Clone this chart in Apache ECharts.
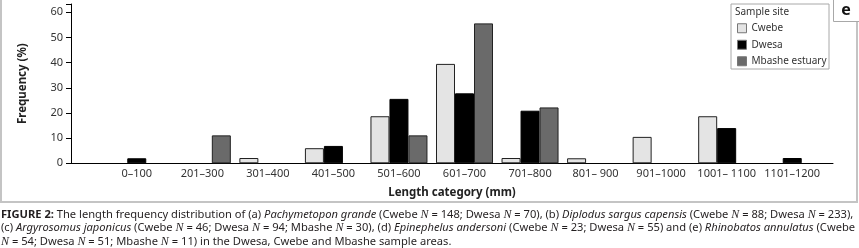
<!DOCTYPE html>
<html>
<head>
<meta charset="utf-8">
<script src="https://cdn.jsdelivr.net/npm/echarts@6/dist/echarts.min.js"></script>
<style>
  html, body { margin: 0; padding: 0; background: #fff; }
  #chart { width: 859px; height: 248px; }
</style>
</head>
<body>
<div id="chart"></div>
<script>
// length classes (mm) - note 101-200 is not in the figure
var categories = ['0–100', '201–300', '301–400', '401–500', '501–600', '601–700',
                  '701–800', '801– 900', '901–1000', '1001– 1100', '1101–1200'];
// frequency (%) per sample site
var cwebe  = [0, 0, 2.1, 6.0, 18.7, 39.5, 2.1, 2.0, 10.5, 18.7, 0];
var dwesa  = [2.0, 0, 0, 6.9, 25.6, 27.8, 20.9, 0, 0, 14.0, 2.1];
var mbashe = [0, 11.1, 0, 0, 11.1, 55.6, 22.2, 0, 0, 0, 0];
var yTicks = [0, 10, 20, 30, 40, 50, 60];

var font = '"Noto Sans", sans-serif';
var myChart = echarts.init(document.getElementById('chart'));

function barSeries(name, data, color, border) {
    return {
        name: name,
        type: 'bar',
        // empty classes are left out so no flat bar sits on the axis
        data: data.map(function (v) { return v === 0 ? '-' : v; }),
        xAxisIndex: 0,
        yAxisIndex: 0,
        barWidth: 19,
        barGap: '0%',
        itemStyle: { color: color, borderColor: border, borderWidth: 1 },
        emphasis: { disabled: true }
    };
}

var option = {
    animation: false,
    grid: [
        { left: 104, right: 34, top: 4, bottom: 84.7 },
        { left: 71, right: 26, top: 4, bottom: 84.7 }
    ],
    xAxis: [{
        type: 'category',
        gridIndex: 0,
        data: categories,
        axisLine: { show: false },
        axisTick: { show: false },
        axisLabel: { interval: 0, margin: 5, fontFamily: font, fontSize: 11, color: '#333' }
    }, {
        type: 'value',
        gridIndex: 1,
        min: 0, max: 1,
        axisLine: { show: true, lineStyle: { color: '#000', width: 1 } },
        axisTick: { show: false },
        axisLabel: { show: false },
        splitLine: { show: false },
        name: 'Length category (mm)',
        nameLocation: 'middle',
        nameGap: 23,
        nameTextStyle: { fontFamily: font, fontSize: 11.5, fontWeight: 'bold', color: '#222' }
    }],
    yAxis: [{
        type: 'value',
        gridIndex: 0,
        min: 0, max: 63.3,
        show: false
    }, {
        type: 'value',
        gridIndex: 1,
        min: 0, max: 63.3, interval: 10,
        axisLine: { show: true, lineStyle: { color: '#000', width: 1 } },
        axisTick: { show: true, length: 5, lineStyle: { color: '#000' } },
        axisLabel: {
            margin: 8, fontFamily: font, fontSize: 11, color: '#333',
            formatter: function (v) { return yTicks.indexOf(v) >= 0 ? String(v) : ''; }
        },
        splitLine: { show: false },
        name: 'Frequency (%)',
        nameLocation: 'middle',
        nameRotate: 90,
        nameGap: 42,
        nameTextStyle: { fontFamily: font, fontSize: 11.5, fontWeight: 'bold', color: '#222' }
    }],
    legend: {
        orient: 'vertical',
        left: 737, top: 21.5,
        padding: 0,
        icon: 'rect',
        itemWidth: 9, itemHeight: 9, itemGap: 3,
        selectedMode: false,
        itemStyle: { borderColor: '#777', borderWidth: 1 },
        textStyle: { fontFamily: font, fontSize: 10, color: '#333', lineHeight: 13.5 },
        data: ['Cwebe', 'Dwesa', 'Mbashe estuary']
    },
    series: [
        barSeries('Cwebe', cwebe, '#e4e4e4', '#222'),
        barSeries('Dwesa', dwesa, '#000000', '#000'),
        barSeries('Mbashe estuary', mbashe, '#6a6a6a', '#222')
    ],
    graphic: [
        // outer frame of the figure panel
        { type: 'rect', shape: { x: 1, y: -5, width: 856, height: 207 },
          style: { fill: 'none', stroke: '#c4c4c4', lineWidth: 2 }, silent: true },
        // legend box
        { type: 'rect', shape: { x: 731, y: 4, width: 98, height: 65 },
          style: { fill: 'none', stroke: '#a8a8a8', lineWidth: 1 }, silent: true },
        { type: 'text', x: 735, y: 7,
          style: { text: 'Sample site', font: '10px "Noto Sans"', fill: '#333' }, silent: true },
        // panel letter box
        { type: 'rect', shape: { x: 833.5, y: -2, width: 26, height: 23.5 },
          style: { fill: '#fff', stroke: '#a8a8a8', lineWidth: 1 }, silent: true },
        { type: 'text', x: 846, y: 10,
          style: { text: 'e', font: 'bold 16px "Noto Sans"', fill: '#111', align: 'center', verticalAlign: 'middle' }, silent: true },
        // caption
        { type: 'text', x: 1, y: 208.5, silent: true,
          style: {
            text: '{b|FIGURE 2:} The length frequency distribution of (a) {i|Pachymetopon grande} (Cwebe {n|N} = 148; Dwesa {n|N} = 70), (b) {i|Diplodus sargus capensis} (Cwebe {n|N} = 88; Dwesa {n|N} = 233),',
            font: '11.15px "Noto Sans"', fill: '#231f20',
            rich: { b: { fontWeight: 'bold', fontFamily: 'Noto Sans', fontSize: 11.15 },
                    i: { fontStyle: 'italic', fontFamily: 'Noto Sans', fontSize: 11.15 },
                    n: { fontStyle: 'italic', fontFamily: 'Liberation Serif', fontSize: 12 } }
          } },
        { type: 'text', x: 1, y: 222, silent: true,
          style: {
            text: '(c) {i|Argyrosomus japonicus} (Cwebe {n|N} = 46; Dwesa {n|N} = 94; Mbashe {n|N} = 30), (d) {i|Epinephelus andersoni} (Cwebe {n|N} = 23; Dwesa {n|N} = 55) and (e) {i|Rhinobatos annulatus} (Cwebe',
            font: '11.15px "Noto Sans"', fill: '#231f20',
            rich: { i: { fontStyle: 'italic', fontFamily: 'Noto Sans', fontSize: 11.15 },
                    n: { fontStyle: 'italic', fontFamily: 'Liberation Serif', fontSize: 12 } }
          } },
        { type: 'text', x: 1, y: 235.5, silent: true,
          style: {
            text: '{n|N} = 54; Dwesa {n|N} = 51; Mbashe {n|N} = 11) in the Dwesa, Cwebe and Mbashe sample areas.',
            font: '11.15px "Noto Sans"', fill: '#231f20',
            rich: { n: { fontStyle: 'italic', fontFamily: 'Liberation Serif', fontSize: 12 } }
          } }
    ]
};

myChart.setOption(option, true);
</script>
</body>
</html>
